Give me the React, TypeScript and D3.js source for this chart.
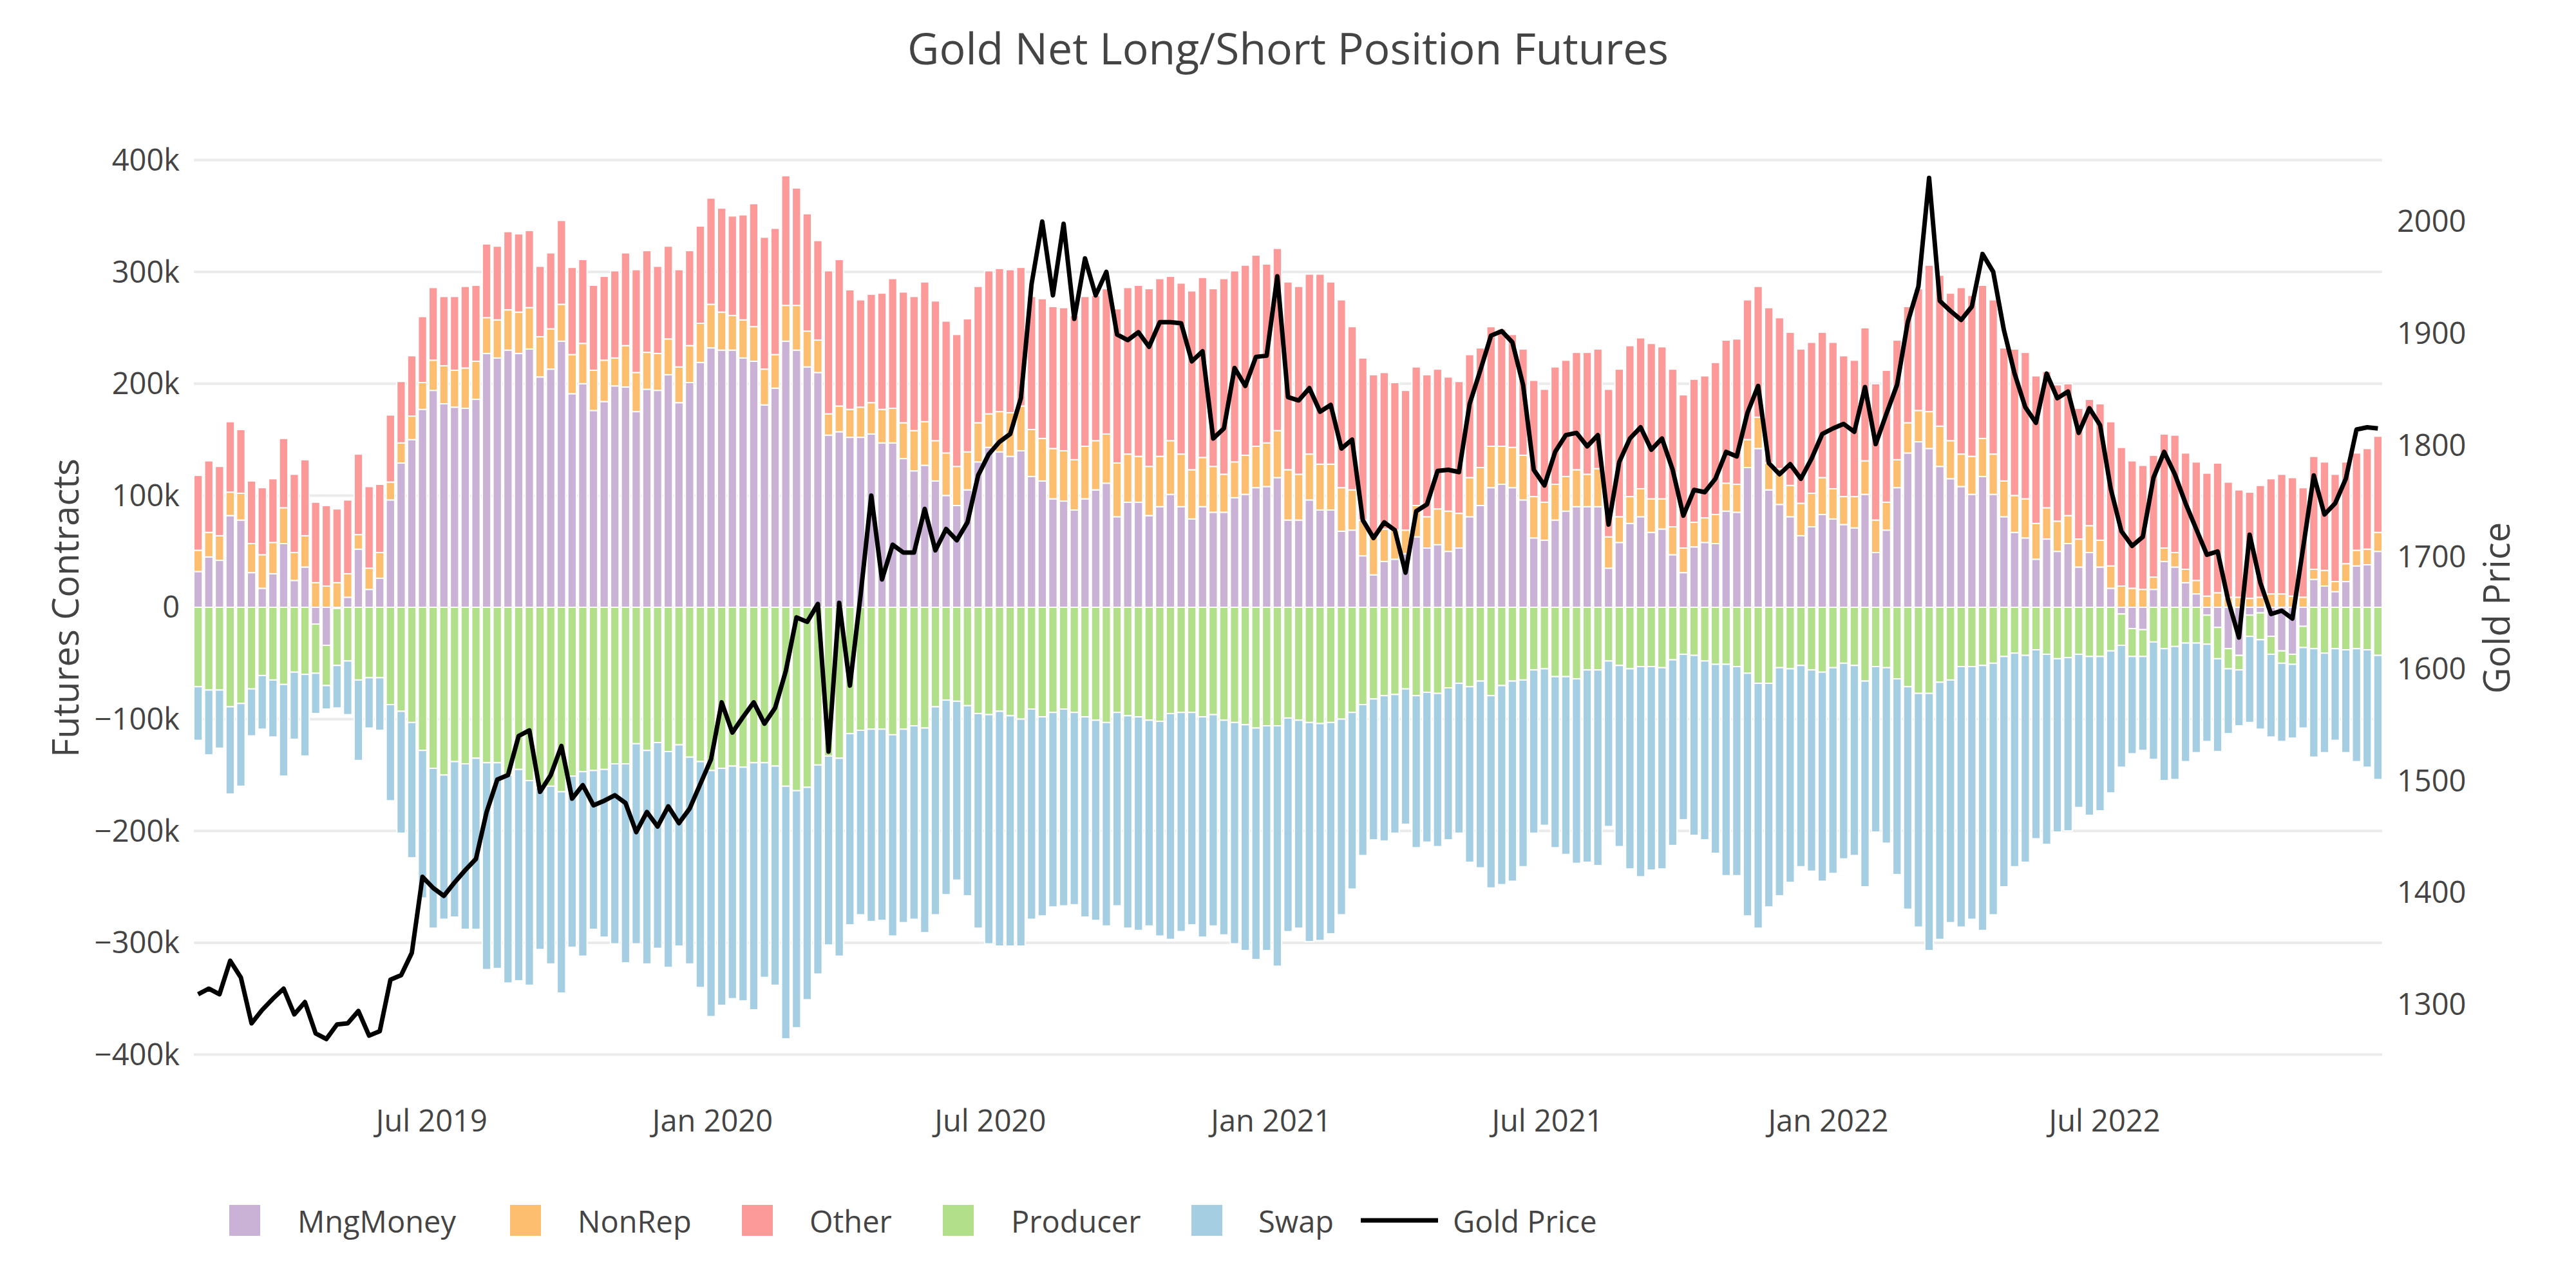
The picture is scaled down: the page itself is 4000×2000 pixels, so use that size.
import React, { useRef, useEffect } from 'react';
import * as d3 from 'd3';

// weekly COT report dates start here (Tuesdays)
const startDate = '2019-01-29';

// net positions, thousands of contracts
const mngMoney = [
  32, 45, 42, 82, 78, 31, 17, 30, 57, 24, 36,
  -15, -34, -1, 9, 52, 16, 26, 96, 129, 150,
  177, 194, 182, 179, 178, 186, 227, 223, 230, 227,
  231, 206, 213, 238, 191, 200, 176, 184, 198, 197,
  175, 195, 194, 208, 183, 201, 219, 232, 230, 230,
  223, 220, 181, 196, 238, 230, 215, 210, 154, 157,
  152, 152, 155, 147, 147, 133, 122, 127, 113, 100,
  91, 105, 130, 143, 139, 135, 140, 117, 113, 97,
  95, 87, 97, 105, 111, 81, 94, 94, 82, 90,
  101, 90, 79, 90, 85, 85, 98, 101, 107, 108,
  116, 78, 78, 96, 87, 87, 68, 69, 46, 29,
  41, 43, 48, 63, 53, 56, 50, 53, 81, 91,
  107, 110, 107, 96, 62, 60, 78, 86, 90, 90,
  90, 35, 58, 75, 81, 67, 70, 47, 31, 54,
  58, 57, 86, 85, 125, 142, 105, 92, 81, 64,
  72, 83, 79, 74, 71, 101, 49, 69, 107, 138,
  148, 142, 126, 115, 108, 101, 117, 101, 81, 67,
  62, 43, 61, 50, 57, 36, 49, 36, 17, -6,
  -19, -20, 16, 41, 36, 22, 12, -7, -18, -37,
  -43, -7, -5, -26, -39, -42, -17, 25, 19, 14,
  23, 37, 38, 50,
];

const nonRep = [
  19, 22, 22, 21, 24, 26, 30, 28, 32, 25, 28,
  22, 19, 22, 21, 13, 19, 23, 16, 18, 21,
  24, 27, 34, 33, 36, 34, 32, 34, 36, 37,
  37, 36, 36, 33, 35, 36, 36, 37, 25, 37,
  35, 33, 33, 32, 32, 33, 35, 39, 34, 31,
  34, 31, 32, 30, 32, 40, 32, 29, 19, 23,
  25, 27, 28, 30, 31, 32, 36, 39, 36, 38,
  35, 34, 35, 30, 36, 39, 40, 42, 38, 45,
  45, 45, 47, 44, 44, 48, 43, 41, 44, 45,
  48, 47, 44, 44, 41, 34, 32, 35, 37, 39,
  42, 45, 41, 41, 41, 41, 39, 36, 32, 35,
  29, 26, 21, 28, 28, 32, 36, 31, 35, 34,
  37, 34, 36, 40, 37, 34, 32, 31, 33, 29,
  34, 28, 23, 24, 25, 30, 27, 25, 22, 22,
  22, 26, 25, 25, 25, 28, 24, 32, 28, 29,
  30, 33, 27, 25, 28, 30, 29, 25, 25, 27,
  28, 33, 36, 34, 29, 34, 34, 36, 32, 33,
  35, 32, 28, 27, 25, 25, 24, 24, 20, 19,
  17, 16, 11, 12, 13, 12, 12, 10, 13, 9,
  9, 8, 9, 12, 12, 10, 9, 9, 14, 9,
  16, 14, 14, 17,
];

const other = [
  67, 64, 62, 63, 57, 56, 60, 57, 62, 70, 68,
  72, 72, 66, 66, 72, 73, 61, 60, 55, 54,
  59, 65, 62, 66, 73, 68, 66, 66, 70, 70,
  69, 63, 68, 75, 78, 75, 76, 75, 78, 83,
  92, 91, 78, 83, 87, 85, 87, 95, 93, 89,
  94, 110, 118, 113, 116, 105, 105, 89, 128, 131,
  107, 96, 97, 104, 116, 117, 120, 125, 125, 118,
  118, 119, 122, 128, 128, 128, 124, 119, 125, 127,
  128, 129, 134, 130, 130, 138, 149, 153, 159, 159,
  147, 153, 160, 161, 159, 175, 171, 170, 171, 160,
  163, 168, 168, 161, 170, 163, 168, 146, 145, 144,
  140, 132, 125, 124, 127, 125, 120, 118, 110, 107,
  107, 105, 101, 95, 104, 101, 105, 104, 105, 109,
  107, 132, 132, 135, 135, 139, 136, 141, 137, 128,
  127, 136, 128, 130, 125, 117, 139, 135, 137, 138,
  135, 130, 131, 126, 122, 119, 122, 118, 107, 104,
  109, 131, 135, 132, 149, 144, 137, 138, 119, 131,
  131, 132, 122, 122, 118, 117, 113, 122, 129, 124,
  114, 111, 109, 102, 105, 104, 106, 110, 116, 103,
  96, 95, 100, 103, 107, 106, 98, 101, 97, 96,
  91, 87, 90, 86,
];

const producer = [
  -71, -74, -74, -89, -86, -73, -61, -65, -69, -58, -60,
  -44, -36, -51, -48, -65, -63, -63, -87, -93, -103,
  -128, -144, -150, -138, -140, -135, -139, -139, -150, -145,
  -155, -161, -160, -165, -151, -147, -146, -145, -140, -140,
  -122, -128, -121, -129, -123, -134, -138, -146, -144, -142,
  -143, -139, -139, -142, -160, -164, -161, -141, -133, -135,
  -113, -110, -109, -109, -114, -109, -106, -108, -89, -83,
  -84, -88, -95, -96, -93, -97, -100, -91, -98, -94,
  -91, -94, -98, -101, -103, -94, -97, -98, -101, -102,
  -95, -94, -94, -98, -96, -101, -103, -105, -108, -106,
  -106, -99, -101, -103, -104, -103, -100, -94, -87, -82,
  -79, -78, -73, -79, -76, -77, -72, -68, -71, -66,
  -79, -70, -66, -65, -56, -55, -62, -62, -64, -56,
  -56, -48, -52, -55, -53, -53, -54, -47, -42, -43,
  -48, -51, -51, -53, -59, -68, -68, -54, -55, -52,
  -56, -58, -54, -50, -52, -66, -53, -54, -64, -71,
  -77, -77, -67, -65, -53, -53, -52, -50, -44, -41,
  -43, -38, -42, -46, -45, -42, -44, -44, -39, -28,
  -25, -24, -31, -37, -35, -32, -32, -26, -28, -18,
  -13, -19, -24, -16, -11, -9, -19, -37, -41, -37,
  -38, -37, -38, -43,
];

const swap = [
  -48, -58, -52, -78, -74, -42, -48, -51, -82, -60, -73,
  -36, -21, -38, -48, -72, -45, -47, -86, -109, -121,
  -132, -143, -129, -139, -148, -153, -185, -184, -186, -189,
  -183, -145, -159, -180, -153, -165, -142, -150, -161, -178,
  -179, -191, -184, -193, -180, -185, -202, -220, -212, -208,
  -209, -221, -192, -196, -226, -212, -190, -187, -169, -177,
  -171, -165, -172, -171, -180, -173, -173, -183, -186, -174,
  -160, -170, -192, -205, -210, -206, -203, -188, -178, -174,
  -176, -172, -179, -179, -182, -173, -190, -191, -184, -192,
  -202, -196, -190, -197, -189, -192, -198, -202, -207, -201,
  -215, -191, -186, -196, -194, -189, -175, -158, -135, -126,
  -130, -124, -121, -136, -134, -137, -136, -134, -157, -167,
  -172, -178, -179, -167, -146, -140, -153, -159, -165, -172,
  -175, -148, -162, -179, -188, -182, -180, -166, -148, -161,
  -160, -169, -189, -187, -217, -219, -200, -204, -191, -180,
  -180, -187, -184, -175, -170, -184, -148, -157, -175, -199,
  -209, -230, -230, -217, -233, -226, -237, -225, -206, -191,
  -185, -169, -170, -155, -155, -137, -142, -138, -127, -109,
  -87, -84, -105, -118, -119, -106, -98, -87, -83, -58,
  -50, -77, -80, -74, -70, -66, -72, -97, -89, -82,
  -92, -101, -105, -111,
];

// gold price, USD/oz
const gold = [
  1309, 1314, 1309, 1339, 1324, 1283, 1295, 1305, 1314, 1291, 1302,
  1274, 1269, 1282, 1283, 1294, 1272, 1276, 1322, 1326, 1346,
  1414, 1404, 1397, 1409, 1420, 1430, 1472, 1501, 1505, 1540,
  1545, 1490, 1505, 1531, 1484, 1496, 1478, 1482, 1487, 1480,
  1454, 1472, 1459, 1477, 1462, 1475, 1497, 1519, 1570, 1543,
  1557, 1570, 1551, 1565, 1598, 1646, 1642, 1658, 1526, 1659,
  1585, 1666, 1755, 1680, 1711, 1704, 1704, 1743, 1706, 1725,
  1715, 1731, 1773, 1792, 1803, 1810, 1842, 1944, 2000, 1934,
  1998, 1913, 1967, 1934, 1955, 1899, 1894, 1901, 1888, 1910,
  1910, 1909, 1875, 1884, 1806, 1815, 1869, 1853, 1879, 1880,
  1951, 1843, 1840, 1851, 1830, 1836, 1797, 1805, 1733, 1717,
  1731, 1724, 1686, 1741, 1747, 1777, 1778, 1776, 1837, 1867,
  1898, 1902, 1892, 1854, 1778, 1764, 1794, 1809, 1811, 1799,
  1809, 1729, 1785, 1806, 1816, 1796, 1806, 1778, 1737, 1760,
  1758, 1770, 1794, 1790, 1829, 1853, 1784, 1774, 1783, 1770,
  1788, 1810, 1815, 1819, 1812, 1852, 1801, 1828, 1854, 1910,
  1942, 2039, 1929, 1920, 1912, 1924, 1971, 1955, 1903, 1864,
  1834, 1820, 1864, 1842, 1848, 1811, 1833, 1818, 1761, 1723,
  1710, 1718, 1771, 1794, 1774, 1748, 1725, 1702, 1705, 1661,
  1628, 1720, 1677, 1649, 1652, 1645, 1708, 1773, 1738, 1748,
  1770, 1814, 1816, 1815,
];

const seriesNames = ['MngMoney', 'NonRep', 'Other', 'Producer', 'Swap'];
const seriesColors = ['#cab2d6', '#fdbf6f', '#fb9a99', '#b2df8a', '#a6cee3'];
const leftTicks = [-400000, -300000, -200000, -100000, 0, 100000, 200000, 300000, 400000];
const rightTicks = [1300, 1400, 1500, 1600, 1700, 1800, 1900, 2000];
const xTicks = ['2019-07-01', '2020-01-01', '2020-07-01', '2021-01-01', '2021-07-01', '2022-01-01', '2022-07-01'];

const width = 4000;
const height = 2000;
const plot = { left: 301, right: 3699 };
const textColor = '#444';
const font = "'Open Sans', 'Noto Sans', sans-serif";
const tickSize = 47;

// legend item x positions (swatch, label)
const legendLayout = [
  { swatch: 356, label: 462 },
  { swatch: 792, label: 897 },
  { swatch: 1152, label: 1257 },
  { swatch: 1464, label: 1570 },
  { swatch: 1850, label: 1954 },
];
const goldLegend = { x0: 2113, x1: 2233, label: 2256 };

type Row = { date: Date; [key: string]: number | Date };

const App = () => {
  const ref = useRef<SVGSVGElement | null>(null);

  useEffect(() => {
    if (!ref.current) {
      return;
    }
    const svg = d3.select(ref.current);
    svg.selectAll('*').remove();

    const week = 7 * 24 * 3600 * 1000;
    const start = new Date(`${startDate}T00:00:00Z`);
    const dates = mngMoney.map((_, i) => d3.utcDay.offset(start, 7 * i));

    const rows: Row[] = dates.map((date, i) => ({
      date,
      MngMoney: mngMoney[i] * 1000,
      NonRep: nonRep[i] * 1000,
      Other: other[i] * 1000,
      Producer: producer[i] * 1000,
      Swap: swap[i] * 1000,
    }));

    const x = d3
      .scaleUtc()
      .domain([new Date(+dates[0] - 0.4 * week), new Date(+dates[dates.length - 1] + 0.4 * week)])
      .range([plot.left, plot.right]);
    const barWidth = x(new Date(+dates[0] + 0.8 * week)) - x(dates[0]);

    const y = d3.scaleLinear().domain([-400000, 400000]).range([1637.5, 248.5]);
    const yGold = d3.scaleLinear().domain([1300, 2000]).range([1559.5, 344]);

    // grid
    svg
      .append('g')
      .selectAll('line')
      .data(leftTicks)
      .enter()
      .append('line')
      .attr('x1', plot.left)
      .attr('x2', plot.right)
      .attr('y1', (d) => y(d))
      .attr('y2', (d) => y(d))
      .attr('stroke', '#ebebeb')
      .attr('stroke-width', 4);

    // stacked bars, positives and negatives stacked separately
    const stacked = d3
      .stack<Row>()
      .keys(seriesNames)
      .value((d, key) => d[key] as number)
      .offset(d3.stackOffsetDiverging)(rows);

    const bars = svg.append('g');
    stacked.forEach((layer, si) => {
      bars
        .append('g')
        .attr('fill', seriesColors[si])
        .selectAll('rect')
        .data(layer)
        .enter()
        .append('rect')
        .attr('x', (d) => x(d.data.date) - barWidth / 2)
        .attr('width', barWidth)
        .attr('y', (d) => y(Math.max(d[0], d[1])))
        .attr('height', (d) => Math.abs(y(d[0]) - y(d[1])))
        .attr('stroke', '#fff')
        .attr('stroke-width', 2);
    });

    // gold price line
    const line = d3
      .line<number>()
      .x((_, i) => x(dates[i]))
      .y((d) => yGold(d));
    svg
      .append('path')
      .datum(gold)
      .attr('d', line)
      .attr('fill', 'none')
      .attr('stroke', '#000')
      .attr('stroke-width', 7)
      .attr('stroke-linejoin', 'round');

    const txt = svg.append('g').attr('font-family', font).attr('fill', textColor);

    // left ticks
    const fmt = d3.format('~s');
    txt
      .append('g')
      .selectAll('text')
      .data(leftTicks)
      .enter()
      .append('text')
      .attr('x', 279)
      .attr('y', (d) => y(d))
      .attr('dy', '0.35em')
      .attr('text-anchor', 'end')
      .attr('font-size', tickSize)
      .text((d) => fmt(d));

    // right ticks
    txt
      .append('g')
      .selectAll('text')
      .data(rightTicks)
      .enter()
      .append('text')
      .attr('x', 3722)
      .attr('y', (d) => yGold(d))
      .attr('dy', '0.35em')
      .attr('text-anchor', 'start')
      .attr('font-size', tickSize)
      .text((d) => String(d));

    // x ticks
    const xfmt = d3.utcFormat('%b %Y');
    txt
      .append('g')
      .selectAll('text')
      .data(xTicks.map((s) => new Date(`${s}T00:00:00Z`)))
      .enter()
      .append('text')
      .attr('x', (d) => x(d))
      .attr('y', 1757)
      .attr('text-anchor', 'middle')
      .attr('font-size', tickSize)
      .text((d) => xfmt(d));

    // titles
    txt
      .append('text')
      .attr('x', 2000)
      .attr('y', 100)
      .attr('text-anchor', 'middle')
      .attr('font-size', 68)
      .text('Gold Net Long/Short Position Futures');

    txt
      .append('text')
      .attr('transform', 'translate(122,944) rotate(-90)')
      .attr('text-anchor', 'middle')
      .attr('font-size', 56)
      .text('Futures Contracts');

    txt
      .append('text')
      .attr('transform', 'translate(3897,944) rotate(-90)')
      .attr('text-anchor', 'middle')
      .attr('font-size', 56)
      .text('Gold Price');

    // legend
    const legend = svg.append('g').attr('font-family', font);
    seriesNames.forEach((name, i) => {
      legend
        .append('rect')
        .attr('x', legendLayout[i].swatch)
        .attr('y', 1871)
        .attr('width', 48)
        .attr('height', 48)
        .attr('fill', seriesColors[i]);
      legend
        .append('text')
        .attr('x', legendLayout[i].label)
        .attr('y', 1914)
        .attr('font-size', tickSize)
        .attr('fill', textColor)
        .text(name);
    });
    legend
      .append('line')
      .attr('x1', goldLegend.x0)
      .attr('x2', goldLegend.x1)
      .attr('y1', 1895)
      .attr('y2', 1895)
      .attr('stroke', '#000')
      .attr('stroke-width', 7);
    legend
      .append('text')
      .attr('x', goldLegend.label)
      .attr('y', 1914)
      .attr('font-size', tickSize)
      .attr('fill', textColor)
      .text('Gold Price');
  }, []);

  return (
    <svg
      ref={ref}
      width={width}
      height={height}
      style={{ position: 'absolute', left: 0, top: 0, background: '#fff' }}
    />
  );
};

export default App;
